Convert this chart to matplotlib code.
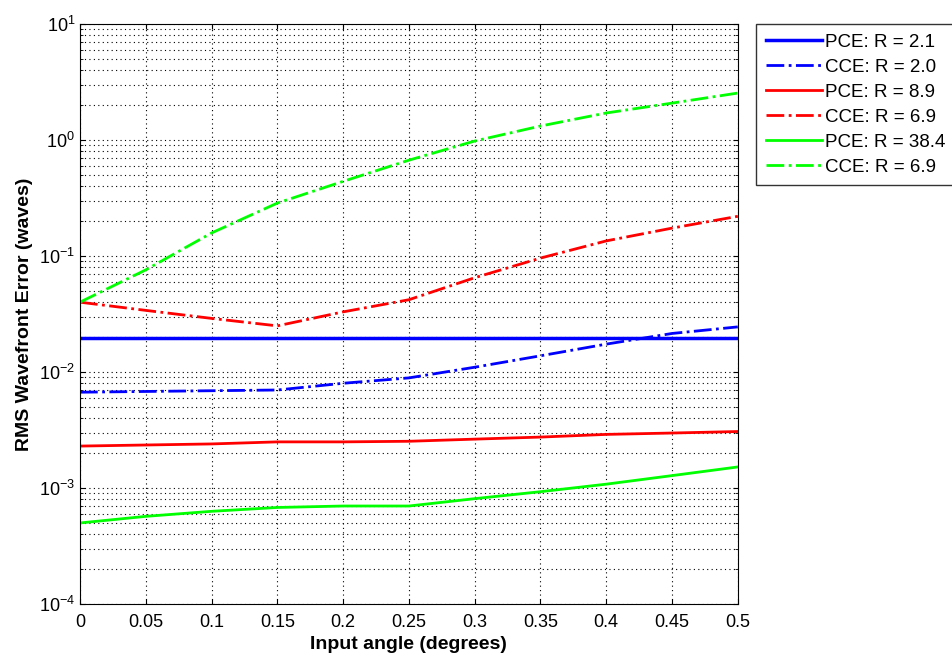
import matplotlib.pyplot as plt
import numpy as np

plt.rcParams['font.family'] = ['Liberation Sans', 'DejaVu Sans']

angle = [0, 0.05, 0.1, 0.15, 0.2, 0.25, 0.3, 0.35, 0.4, 0.45, 0.5]

pce_21 = [0.0195] * 11
cce_20 = [0.0067, 0.0068, 0.0069, 0.0070, 0.0080, 0.0089, 0.0110, 0.0138, 0.0174, 0.0215, 0.0245]
pce_89 = [0.0023, 0.00235, 0.0024, 0.0025, 0.0025, 0.00253, 0.00264, 0.00275, 0.0029, 0.00298, 0.00307]
cce_69r = [0.040, 0.034, 0.029, 0.025, 0.033, 0.042, 0.065, 0.096, 0.135, 0.174, 0.22]
pce_384 = [0.00050, 0.00057, 0.00063, 0.00068, 0.00070, 0.00070, 0.00081, 0.00093, 0.00108, 0.00128, 0.00152]
cce_69g = [0.040, 0.076, 0.158, 0.286, 0.44, 0.67, 0.98, 1.32, 1.71, 2.08, 2.54]

series = [
    ("PCE: R = 2.1", pce_21, "#0000ff", "-", 2.5),
    ("CCE: R = 2.0", cce_20, "#0000ff", "-.", 2.0),
    ("PCE: R = 8.9", pce_89, "#ff0000", "-", 2.0),
    ("CCE: R = 6.9", cce_69r, "#ff0000", "-.", 2.0),
    ("PCE: R = 38.4", pce_384, "#00ff00", "-", 2.0),
    ("CCE: R = 6.9", cce_69g, "#00ff00", "-.", 2.0),
]

fig = plt.figure(figsize=(9.52, 6.58), dpi=100)
ax = fig.add_axes([0.084, 0.082, 0.691, 0.8815])

for label, vals, col, ls, lw in series:
    ax.semilogy(angle, vals, color=col, linestyle=ls, linewidth=lw, label=label)

ax.set_xlim(0, 0.5)
ax.set_ylim(1e-4, 1e1)
ax.set_xticks([0, 0.05, 0.1, 0.15, 0.2, 0.25, 0.3, 0.35, 0.4, 0.45, 0.5])
ax.set_xticklabels(["0", "0.05", "0.1", "0.15", "0.2", "0.25", "0.3", "0.35", "0.4", "0.45", "0.5"])
dots = (0, (1, 3))
ax.grid(True, which="major", color="black", linestyle=dots, linewidth=0.8)
ax.grid(True, which="minor", axis="y", color="black", linestyle=dots, linewidth=0.8)
ax.tick_params(which="both", direction="in", top=True, right=True, labelsize=13)
ax.tick_params(axis="x", pad=7)

ax.set_xlabel("Input angle (degrees)", fontsize=14, fontweight="bold")
ax.set_ylabel("RMS Wavefront Error (waves)", fontsize=14, fontweight="bold")

leg = ax.legend(loc="upper left", bbox_to_anchor=(1.028, 1.0), fontsize=13.5,
                frameon=True, fancybox=False, edgecolor="black",
                handlelength=3.0, handletextpad=0.15, labelspacing=0.42,
                borderpad=0.5, borderaxespad=0)
leg.get_frame().set_linewidth(1.0)

fig.savefig("out.png", dpi=100)
